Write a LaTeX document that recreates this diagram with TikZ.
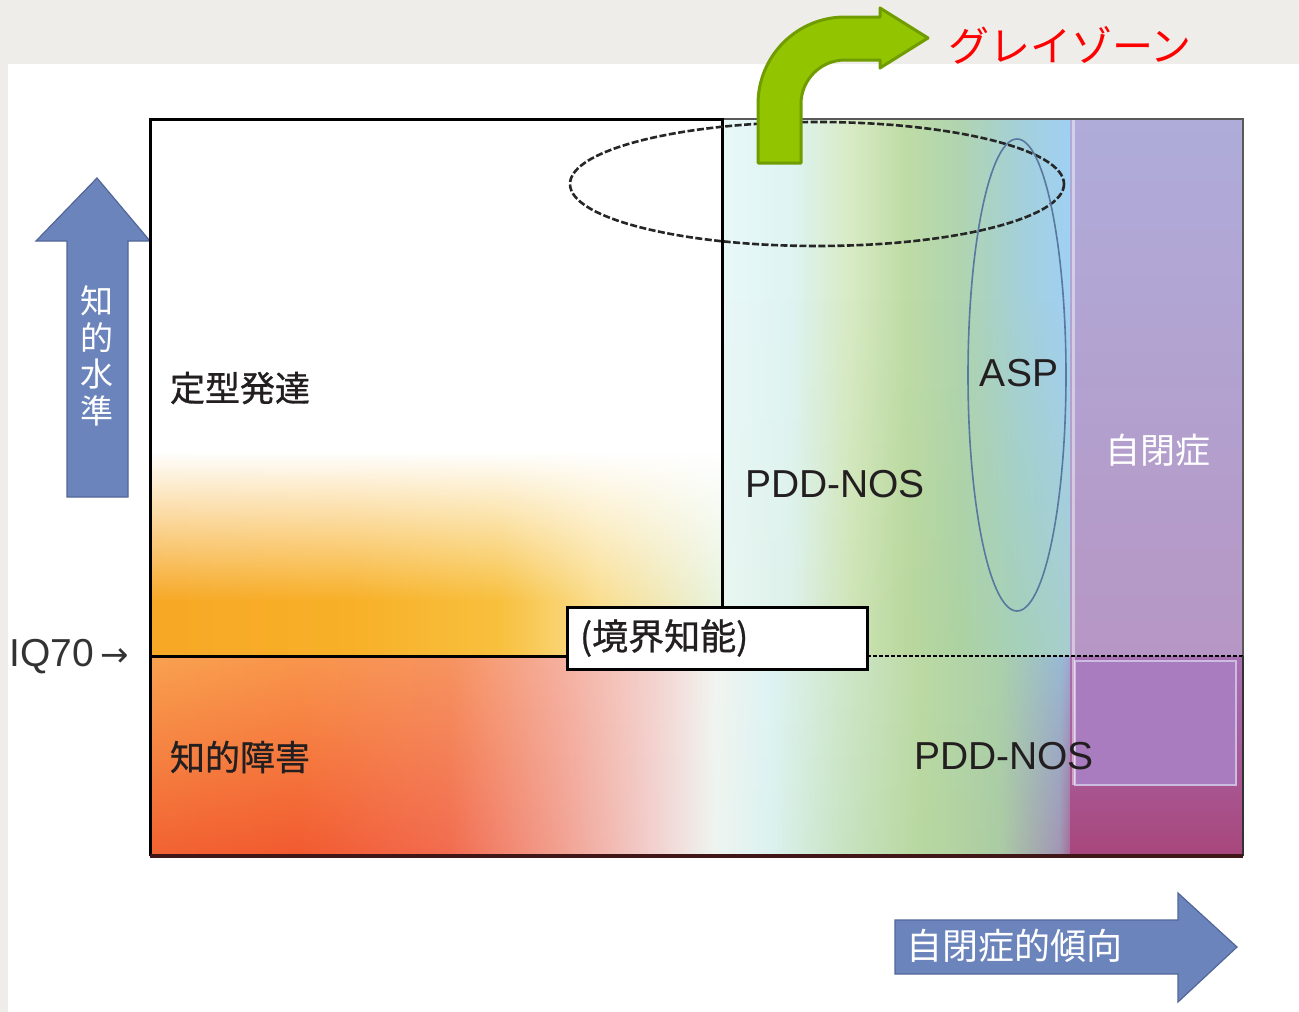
\documentclass[tikz,border=0pt]{standalone}
\usepackage{fontspec}
\setmainfont{Liberation Sans}
\newfontfamily\cjk{Noto Sans CJK JP}
\newfontfamily\cjkb{Noto Sans CJK JP}[FakeBold=0.8]
\newfontfamily\dejavu{DejaVu Sans}
\usetikzlibrary{fadings}

\definecolor{bggray}{RGB}{238,237,233}
\definecolor{txt}{RGB}{35,31,32}
% warm glow (bottom row of upper-left region)
\definecolor{wm1}{RGB}{247,168,38}
\definecolor{wm2}{RGB}{248,176,40}
\definecolor{wm3}{RGB}{248,192,62}
\definecolor{wm4}{RGB}{250,222,144}
\definecolor{wm5}{RGB}{232,244,224}
% upper right, top row
\definecolor{urT1}{RGB}{232,248,248}
\definecolor{urT2}{RGB}{222,244,242}
\definecolor{urT3}{RGB}{216,234,196}
\definecolor{urT4}{RGB}{190,220,166}
\definecolor{urT5}{RGB}{176,212,176}
\definecolor{urT6}{RGB}{164,208,218}
\definecolor{urT7}{RGB}{160,208,244}
% upper right, bottom row
\definecolor{urB1}{RGB}{232,246,240}
\definecolor{urB2}{RGB}{222,241,234}
\definecolor{urB3}{RGB}{206,228,182}
\definecolor{urB4}{RGB}{186,216,158}
\definecolor{urB5}{RGB}{172,210,162}
\definecolor{urB6}{RGB}{166,208,186}
\definecolor{urB7}{RGB}{168,206,206}
% lower band, top row
\definecolor{lT1}{RGB}{249,162,80}
\definecolor{lT2}{RGB}{249,150,76}
\definecolor{lT3}{RGB}{247,148,96}
\definecolor{lT4}{RGB}{246,176,160}
\definecolor{lT5}{RGB}{244,210,206}
\definecolor{lT6}{RGB}{242,244,240}
\definecolor{lT7}{RGB}{222,244,244}
\definecolor{lT8}{RGB}{208,232,204}
\definecolor{lT9}{RGB}{188,218,164}
\definecolor{lT10}{RGB}{170,208,172}
\definecolor{lT11}{RGB}{152,186,212}
\definecolor{lT12}{RGB}{166,154,204}
% lower band, bottom row
\definecolor{lB1}{RGB}{242,98,50}
\definecolor{lB2}{RGB}{242,90,48}
\definecolor{lB3}{RGB}{242,108,80}
\definecolor{lB4}{RGB}{242,160,144}
\definecolor{lB5}{RGB}{242,206,204}
\definecolor{lB6}{RGB}{238,244,240}
\definecolor{lB7}{RGB}{220,242,240}
\definecolor{lB8}{RGB}{200,228,196}
\definecolor{lB9}{RGB}{184,216,160}
\definecolor{lB10}{RGB}{172,204,164}
\definecolor{lB11}{RGB}{162,150,180}
\definecolor{lB12}{RGB}{168,90,140}
% purple column
\definecolor{pu1}{RGB}{175,172,218}
\definecolor{pu2}{RGB}{176,168,214}
\definecolor{pu3}{RGB}{182,150,196}
\definecolor{pl1}{RGB}{168,112,180}
\definecolor{pl2}{RGB}{168,70,124}
\definecolor{purpinner}{RGB}{168,124,190}
\definecolor{purpedge}{RGB}{205,188,226}
% arrows
\definecolor{blfill}{RGB}{108,132,188}
\definecolor{bldraw}{RGB}{82,102,152}
\definecolor{gfill}{RGB}{146,196,0}
\definecolor{gdraw}{RGB}{112,156,0}
\definecolor{aspc}{RGB}{88,120,160}
\definecolor{botline}{RGB}{64,22,22}

\pgfdeclarehorizontalshading{warmS}{100bp}{color(0bp)=(wm1); color(25bp)=(wm1); color(42.48bp)=(wm2); color(55.59bp)=(wm3); color(64.34bp)=(wm4); color(75bp)=(wm5); color(100bp)=(wm5)}
\pgfdeclarehorizontalshading{urTop}{100bp}{color(0bp)=(urT1); color(25bp)=(urT1); color(34.77bp)=(urT2); color(43.39bp)=(urT3); color(51.29bp)=(urT4); color(59.2bp)=(urT5); color(67.82bp)=(urT6); color(75bp)=(urT7); color(100bp)=(urT7)}
\pgfdeclarehorizontalshading{urBot}{100bp}{color(0bp)=(urB1); color(25bp)=(urB1); color(34.77bp)=(urB2); color(43.39bp)=(urB3); color(51.29bp)=(urB4); color(59.2bp)=(urB5); color(67.82bp)=(urB6); color(75bp)=(urB7); color(100bp)=(urB7)}
\pgfdeclarehorizontalshading{loTop}{100bp}{color(0bp)=(lT1); color(25bp)=(lT1); color(33.11bp)=(lT2); color(41.22bp)=(lT3); color(47.16bp)=(lT4); color(52.03bp)=(lT5); color(55.54bp)=(lT6); color(58.51bp)=(lT7); color(62.3bp)=(lT8); color(66.62bp)=(lT9); color(70.95bp)=(lT10); color(74.19bp)=(lT11); color(75bp)=(lT12); color(100bp)=(lT12)}
\pgfdeclarehorizontalshading{loBot}{100bp}{color(0bp)=(lB1); color(25bp)=(lB1); color(33.11bp)=(lB2); color(41.22bp)=(lB3); color(47.16bp)=(lB4); color(52.03bp)=(lB5); color(55.54bp)=(lB6); color(58.51bp)=(lB7); color(62.3bp)=(lB8); color(66.62bp)=(lB9); color(70.95bp)=(lB10); color(74.19bp)=(lB11); color(75bp)=(lB12); color(100bp)=(lB12)}

\tikzfading[name=fadeDn, top color=transparent!100, bottom color=transparent!0]

\begin{document}
\begin{tikzpicture}[x=1pt,y=-1pt,
  jp/.style={font=\cjkb\fontsize{35}{36}\selectfont, text=txt, inner sep=0pt},
  jpw/.style={font=\cjk\fontsize{35}{36}\selectfont, text=white, inner sep=0pt},
  lat/.style={font=\fontsize{39}{42}\selectfont, text=txt, inner sep=0pt},
  frame/.style={draw=black, line width=3},
  thinedge/.style={draw=black!65, line width=1.5},
  dashline/.style={draw=black, line width=1.8, dash pattern=on 4pt off 2pt},
  boxstyle/.style={draw=black, line width=3, fill=white, minimum width=300, minimum height=62,
                   text width=274, inner xsep=13, inner ysep=0, align=left,
                   font=\cjkb\fontsize{36}{38}\selectfont, text=txt},
  bigarrow/.style={fill=blfill, draw=bldraw, line width=1.2, line join=miter},
  zone/.style={draw=black!85, line width=2.6, dash pattern=on 7pt off 2.5pt},
  aspline/.style={draw=aspc, line width=1.6}]

\useasboundingbox (0,0) rectangle (1299,1012);
% page background
\fill[bggray] (0,0) rectangle (1299,1012);
\fill[white] (8,64) rectangle (1299,1012);

% ---- colour fields ----
\shade[shading=warmS, path fading=fadeDn] (150,452) rectangle (722,601);
\shade[shading=warmS] (150,600) rectangle (722,657);
\shade[shading=urTop] (722,119) rectangle (1071,657);
\shade[shading=urBot, path fading=fadeDn] (722,300) rectangle (1071,657);
\shade[shading=loTop] (150,656) rectangle (1076,856);
\shade[shading=loBot, path fading=fadeDn] (150,656) rectangle (1076,856);
\shade[top color=pu1, middle color=pu2, bottom color=pu3] (1070,119) rectangle (1243,657);
\shade[top color=pl1, bottom color=pl2] (1070,656) rectangle (1243,856);
\fill[fill=purpinner] (1075,661) rectangle (1236,785);
\draw[draw=purpedge, line width=2] (1075,661) rectangle (1236,785);
\draw[white, opacity=0.45, line width=3] (1073,120) -- (1073,785);

% ---- frame lines ----
\coordinate (TL) at (150,119);
\coordinate (TM) at (722,119);
\coordinate (TR) at (1243,119);
\coordinate (ML) at (150,656);
\coordinate (MR) at (1243,656);
\coordinate (BL) at (150,856);
\coordinate (BR) at (1243,856);
\coordinate (BXT) at (722,607);
\coordinate (BXW) at (567,656);
\coordinate (BXE) at (867,656);

\draw[thinedge] (TM) -- (TR) -- (MR);
\draw[dashline] (BXE) -- (MR);
\draw[draw=black!80, line width=1.5] (MR) -- (BR);
\draw[frame] (BL) -- (TL) -- (TM) -- (BXT);
\draw[frame] (ML) -- (BXW);
\draw[draw=botline, line width=3.5] (BL) -- (BR);
\node[boxstyle] (bx) at (717,638) {(境界知能)};

% ---- ellipses ----
\draw[zone] (817,184) ellipse [x radius=247, y radius=62];
\draw[aspline] (1017,375) ellipse [x radius=49, y radius=236];

% ---- labels ----
\node[jp] (teikei) at (240,388) {定型発達};
\node[jp] (chiteki) at (240,757) {知的障害};
\node[lat] (pdd1) at (835,484) {PDD-NOS};
\node[lat] (pdd2) at (1004,756) {PDD-NOS};
\node[lat] (asp) at (1019,373) {ASP};
\node[jpw] (jihei) at (1158,450) {自閉症};
\node[lat, anchor=west, font=\fontsize{39}{42}\selectfont, text=black!80] (iq) at (9,657) {IQ70\,{\dejavu\fontsize{34}{36}\selectfont →}};

% ---- axis arrows ----
\path[bigarrow] (67,497) -- (67,241) -- (36,241) -- (97,178) -- (150,241) -- (128,241) -- (128,497) -- cycle;
\node[jpw, align=center, font=\cjk\fontsize{33}{36.5}\selectfont] (level) at (97,356) {知\\的\\水\\準};
\path[bigarrow] (895,920) -- (1178,920) -- (1178,893) -- (1237,947) -- (1178,1002) -- (1178,974) -- (895,974) -- cycle;
\node[jpw, anchor=west, font=\cjk\fontsize{36}{38}\selectfont] (tend) at (906,946) {自閉症的傾向};
\draw[frame] (TL) -- (ML);

% ---- green bent arrow ----
\path[fill=gfill, draw=gdraw, line width=3, line join=round]
  (758,163) -- (758,104) arc[start angle=180, end angle=270, radius=87]
  -- (880,17) -- (880,8) -- (928,38) -- (880,68) -- (880,60) -- (845,60)
  arc[start angle=270, end angle=180, radius=44] -- (801,163) -- cycle;
\node[font=\cjk\fontsize{41}{44}\selectfont, text=red, inner sep=0pt] (gray) at (1070,45) {グレイゾーン};
\end{tikzpicture}
\end{document}
